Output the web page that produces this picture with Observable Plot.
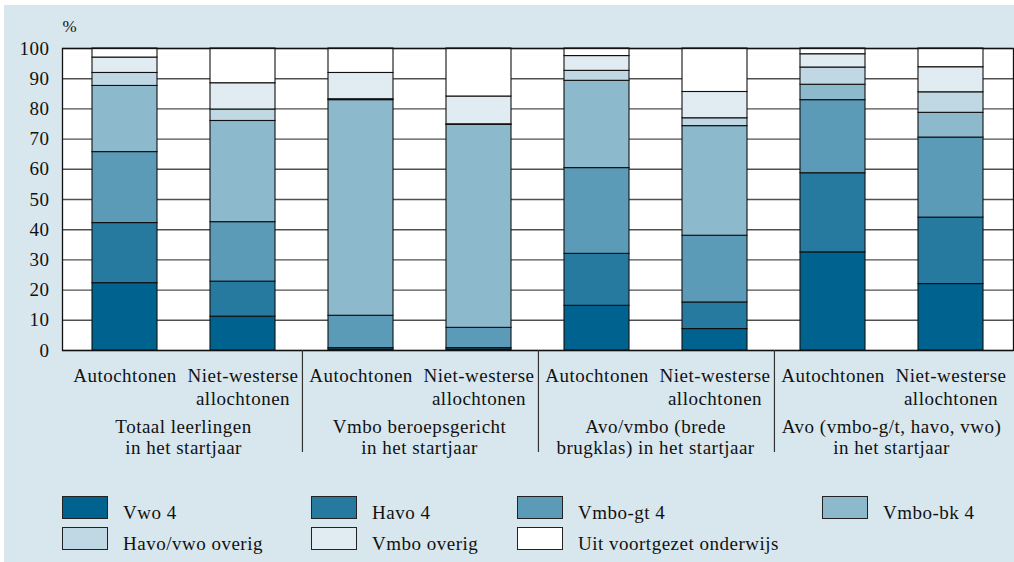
<!DOCTYPE html>
<html>
<head>
<meta charset="utf-8">
<script src="https://cdn.jsdelivr.net/npm/d3@7"></script>
<script src="https://cdn.jsdelivr.net/npm/@observablehq/plot@0.6"></script>
<style>
  html, body { margin: 0; padding: 0; background: #ffffff; width: 1014px; height: 562px; overflow: hidden; }
  #bg { position: absolute; left: 4px; top: 5px; right: 0; bottom: 0; background: #d8e7ee; }
  #chart { position: absolute; left: 0; top: 0; }
  #chart svg text { letter-spacing: 0.5px; }
  #legend { position: absolute; left: 62px; top: 496px; display: grid;
            grid-template-columns: 249px 206px 305px 180px; row-gap: 8px;
            font-family: "Liberation Serif", serif; font-size: 19px; color: #111; letter-spacing: 0.5px; }
  .item { display: flex; align-items: flex-end; height: 23px; }
  .sw { width: 46px; height: 23px; box-sizing: border-box; border: 1px solid #222; margin-right: 15px; flex: none; }
  .lbl { line-height: 19px; position: relative; top: 3px; white-space: nowrap; }
</style>
</head>
<body>
<div id="bg"></div>
<div id="chart"></div>
<div id="legend"></div>
<script>
// ---- data ----
const groups = [
  "Totaal leerlingen\nin het startjaar",
  "Vmbo beroepsgericht\nin het startjaar",
  "Avo/vmbo (brede\nbrugklas) in het startjaar",
  "Avo (vmbo-g/t, havo, vwo)\nin het startjaar"
];
const populations = ["Autochtonen", "Niet-westerse\nallochtonen"];
const levels = ["Vwo 4", "Havo 4", "Vmbo-gt 4", "Vmbo-bk 4", "Havo/vwo overig", "Vmbo overig", "Uit voortgezet onderwijs"];
const levelColors = ["#00628f", "#267a9f", "#5b9bb7", "#8db9cc", "#c0d8e4", "#e0ebf2", "#ffffff"];
// one value per bar: group1 Aut, group1 NW, group2 Aut, ...
const vwo4          = [22.3, 11.2,  0.3,  0.3, 14.8,  7.1, 32.5, 22.0];
const havo4         = [19.9, 11.6,  0.5,  0.5, 17.2,  8.8, 26.2, 22.0];
const vmboGt4       = [23.5, 19.7, 10.7,  6.7, 28.4, 22.1, 24.2, 26.5];
const vmboBk4       = [21.9, 33.5, 71.4, 67.2, 28.9, 36.3,  5.1,  8.2];
const havoVwoOverig = [ 4.3,  3.8,  0.3,  0.2,  3.3,  2.6,  5.7,  6.8];
const vmboOverig    = [ 5.1,  8.7,  8.7,  9.2,  4.9,  8.7,  4.4,  8.3];
const uitVo         = [ 3.0, 11.5,  8.1, 15.9,  2.5, 14.4,  1.9,  6.2];
const yTicks = [0, 10, 20, 30, 40, 50, 60, 70, 80, 90, 100];
const yUnit = "%";

// ---- build table ----
const series = [vwo4, havo4, vmboGt4, vmboBk4, havoVwoOverig, vmboOverig, uitVo];
const keys = [];
const rows = [];
groups.forEach((g, gi) => {
  populations.forEach((p, pi) => {
    const bi = gi * 2 + pi;
    const key = gi + "|" + pi;
    keys.push(key);
    levels.forEach((lv, li) => rows.push({key, group: g, pop: p, level: lv, value: series[li][bi]}));
  });
});
const groupRows = groups.map((g, gi) => ({group: g, key: gi + "|1"}));

const step = (1013 - 62) / keys.length;

const chart = Plot.plot({
  width: 1014,
  height: 462,
  marginTop: 48,
  marginBottom: 112,
  marginLeft: 62,
  marginRight: 1,
  style: {fontFamily: "'Liberation Serif', serif", fontSize: "19px", color: "#111", background: "transparent", overflow: "visible"},
  x: {domain: keys, paddingInner: 0.445, paddingOuter: 0.2225, axis: null},
  y: {domain: [0, 100], axis: null},
  color: {domain: levels, range: levelColors},
  marks: [
    Plot.frame({fill: "white", stroke: null}),
    Plot.ruleY(yTicks, {stroke: "#505050", strokeWidth: 1.4}),
    Plot.barY(rows, {x: "key", y: "value", fill: "level", stroke: "#111", strokeWidth: 1.1}),
    Plot.frame({stroke: "#111", strokeWidth: 1.3}),
    Plot.axisY(yTicks, {tickSize: 0, tickPadding: 13, fontSize: 19, label: null, tickFormat: d => String(d)}),
    Plot.axisX({tickSize: 0, tickPadding: 14.5, fontSize: 19, lineHeight: 1.23, label: null,
      tickFormat: k => populations[+k.split("|")[1]]}),
    Plot.text(groupRows, {x: "key", text: "group", frameAnchor: "bottom", lineAnchor: "top",
      dx: -step / 2, dy: 67.5, lineHeight: 1.1, fontSize: 19, fill: "#111"}),
    Plot.ruleX(groupRows.slice(0, 3), {x: "key", y1: 0, y2: 0, dx: step / 2, insetBottom: -102, stroke: "#333", strokeWidth: 1.2}),
    Plot.text([yUnit], {text: d => d, frameAnchor: "top-left", textAnchor: "start", lineAnchor: "top", dy: -28.5, fontSize: 17, fill: "#111"})
  ]
});
document.getElementById("chart").appendChild(chart);

// ---- legend ----
const legend = document.getElementById("legend");
levels.forEach((lv, i) => {
  const item = document.createElement("div");
  item.className = "item";
  const sw = document.createElement("div");
  sw.className = "sw";
  sw.style.background = levelColors[i];
  const lbl = document.createElement("span");
  lbl.className = "lbl";
  lbl.textContent = lv;
  item.appendChild(sw);
  item.appendChild(lbl);
  legend.appendChild(item);
});
</script>
</body>
</html>
